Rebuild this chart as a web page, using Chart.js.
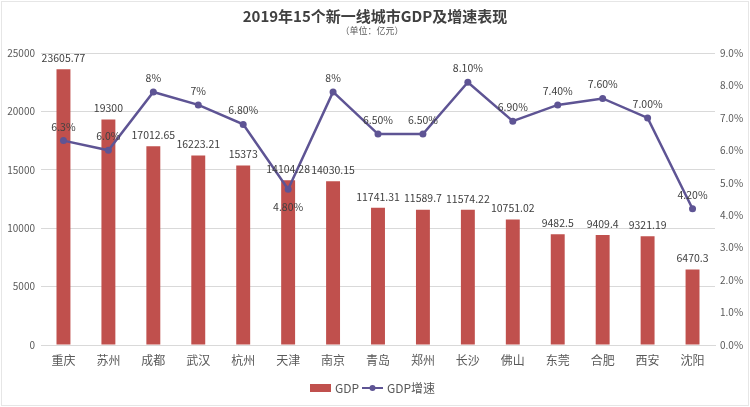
<!DOCTYPE html>
<html>
<head>
<meta charset="utf-8">
<script src="https://cdn.jsdelivr.net/npm/chart.js@4"></script>
<style>
  html, body { margin: 0; padding: 0; background: #fff; }
  canvas { display: block; }
</style>
</head>
<body>
<canvas id="chart" width="750" height="407"></canvas>
<script>
// values
const cities = ['重庆', '苏州', '成都', '武汉', '杭州', '天津', '南京', '青岛', '郑州', '长沙', '佛山', '东莞', '合肥', '西安', '沈阳'];
const gdp = [23605.77, 19300, 17012.65, 16223.21, 15373, 14104.28, 14030.15, 11741.31, 11589.7, 11574.22, 10751.02, 9482.5, 9409.4, 9321.19, 6470.3];
const gdpLabels = ['23605.77', '19300', '17012.65', '16223.21', '15373', '14104.28', '14030.15', '11741.31', '11589.7', '11574.22', '10751.02', '9482.5', '9409.4', '9321.19', '6470.3'];
const growth = [6.3, 6.0, 7.8, 7.4, 6.8, 4.8, 7.8, 6.5, 6.5, 8.1, 6.9, 7.4, 7.6, 7.0, 4.2];
const growthLabels = ['6.3%', '6.0%', '8%', '7%', '6.80%', '4.80%', '8%', '6.50%', '6.50%', '8.10%', '6.90%', '7.40%', '7.60%', '7.00%', '4.20%'];
const labelsBelow = ['天津'];

const FONT = '"Noto Sans CJK SC", "Noto Sans", sans-serif';
const RED = '#c0504d';
const PURPLE = '#5e5494';

// value labels, title and legend drawn on the canvas
const annotate = {
  id: 'annotate',
  afterDatasetsDraw(chart) {
    const ctx = chart.ctx;
    ctx.save();
    ctx.font = '10.5px ' + FONT;
    ctx.fillStyle = '#404040';
    ctx.textAlign = 'center';
    ctx.textBaseline = 'bottom';
    chart.getDatasetMeta(1).data.forEach((bar, i) => {
      ctx.fillText(gdpLabels[i], bar.x, bar.y - 6);
    });
    ctx.textBaseline = 'middle';
    chart.getDatasetMeta(0).data.forEach((pt, i) => {
      const below = labelsBelow.includes(cities[i]);
      ctx.fillText(growthLabels[i], pt.x, below ? pt.y + 18 : pt.y - 14);
    });
    ctx.restore();
  },
  afterDraw(chart) {
    const ctx = chart.ctx;
    ctx.save();
    ctx.strokeStyle = '#e6e6e6';
    ctx.lineWidth = 1;
    ctx.strokeRect(1.5, 1.5, 747, 404);

    ctx.textAlign = 'center';
    ctx.textBaseline = 'middle';
    ctx.fillStyle = '#404040';
    ctx.font = 'bold 15px ' + FONT;
    ctx.fillText('2019年15个新一线城市GDP及增速表现', 375, 16);
    ctx.font = '9px ' + FONT;
    ctx.fillStyle = '#595959';
    ctx.fillText('（单位：亿元）', 372, 31);

    // legend
    const y = 388;
    ctx.fillStyle = RED;
    ctx.fillRect(310, y - 4, 21, 8);
    ctx.textAlign = 'left';
    ctx.fillStyle = '#595959';
    ctx.font = '12px ' + FONT;
    ctx.fillText('GDP', 335, y);
    ctx.strokeStyle = PURPLE;
    ctx.lineWidth = 2;
    ctx.beginPath();
    ctx.moveTo(362, y);
    ctx.lineTo(383, y);
    ctx.stroke();
    ctx.fillStyle = PURPLE;
    ctx.beginPath();
    ctx.arc(372.5, y, 3, 0, Math.PI * 2);
    ctx.fill();
    ctx.fillStyle = '#595959';
    ctx.fillText('GDP增速', 387, y);
    ctx.restore();
  }
};

new Chart(document.getElementById('chart'), {
  data: {
    labels: cities,
    datasets: [
      {
        type: 'line',
        label: 'GDP增速',
        data: growth,
        yAxisID: 'y2',
        borderColor: PURPLE,
        backgroundColor: PURPLE,
        borderWidth: 2.5,
        pointRadius: 3.5,
        pointBackgroundColor: PURPLE,
        pointBorderWidth: 0,
        tension: 0,
        order: 0
      },
      {
        type: 'bar',
        label: 'GDP',
        data: gdp,
        yAxisID: 'y',
        backgroundColor: RED,
        categoryPercentage: 1,
        barPercentage: 0.31,
        order: 1
      }
    ]
  },
  options: {
    responsive: false,
    animation: false,
    layout: { padding: { top: 53, left: 0, right: 0, bottom: 0 } },
    plugins: {
      legend: { display: false },
      tooltip: { enabled: false }
    },
    scales: {
      x: {
        grid: { display: false, drawTicks: false },
        border: { color: '#d9d9d9' },
        ticks: { color: '#595959', font: { family: FONT, size: 12 }, padding: 8 },
        afterFit(s) { s.height = 62; }
      },
      y: {
        position: 'left',
        min: 0,
        max: 25000,
        ticks: {
          stepSize: 5000,
          color: '#595959',
          font: { family: FONT, size: 10 },
          padding: 6,
          callback: v => String(v)
        },
        grid: { color: '#d9d9d9', drawTicks: false },
        border: { display: false },
        afterFit(s) { s.width = 41; }
      },
      y2: {
        position: 'right',
        min: 0,
        max: 9,
        ticks: {
          stepSize: 1,
          color: '#595959',
          font: { family: FONT, size: 10 },
          padding: 5,
          callback: v => v.toFixed(1) + '%'
        },
        grid: { display: false, drawTicks: false },
        border: { display: false },
        afterFit(s) { s.width = 35; }
      }
    }
  },
  plugins: [annotate]
});
</script>
</body>
</html>
